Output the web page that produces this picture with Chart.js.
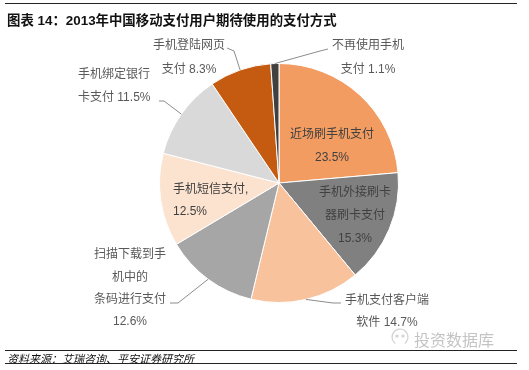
<!DOCTYPE html>
<html><head><meta charset="utf-8">
<script src="https://cdn.jsdelivr.net/npm/chart.js@4/dist/chart.umd.min.js"></script>
<style>
html,body{margin:0;padding:0;background:#fff;width:529px;height:370px;overflow:hidden;}
#wrap{position:relative;width:529px;height:370px;}
canvas{position:absolute;left:0;top:0;}
.line{position:absolute;left:5px;width:512px;height:0;border-top:1.5px solid #222;}
#title{position:absolute;left:7px;top:9px;font:bold 13.4px "Liberation Sans","Noto Sans CJK SC",sans-serif;color:#111;white-space:nowrap;}
#foot{position:absolute;left:7px;top:350px;font:italic 11px "Liberation Sans","Noto Sans CJK SC",sans-serif;color:#111;white-space:nowrap;}
#wm{position:absolute;left:414px;top:327px;font:16px "Noto Sans CJK SC",sans-serif;color:#c4c4c4;white-space:nowrap;}
</style></head>
<body><div id="wrap">
<canvas id="c" width="529" height="370"></canvas>
<div class="line" style="top:3px"></div>
<div id="title">图表 14：2013年中国移动支付用户期待使用的支付方式</div>
<div class="line" style="top:350px"></div>
<div id="foot">资料来源：艾瑞咨询、平安证券研究所</div>
<div class="line" style="top:363px"></div>
<div id="wm">投资数据库</div>
</div>
<script>
// ---- data ----
const categories = ["近场刷手机支付","手机外接刷卡器刷卡支付","手机支付客户端软件","扫描下载到手机中的条码进行支付","手机短信支付","手机绑定银行卡支付","手机登陆网页支付","不再使用手机支付"];
const shares = [23.5, 15.3, 14.7, 12.6, 12.5, 11.5, 8.3, 1.1];
const labelLines = [
  ["近场刷手机支付","23.5%"],
  ["手机外接刷卡","器刷卡支付","15.3%"],
  ["手机支付客户端","软件 14.7%"],
  ["扫描下载到手","机中的","条码进行支付","12.6%"],
  ["手机短信支付,","12.5%"],
  ["手机绑定银行","卡支付 11.5%"],
  ["手机登陆网页","支付 8.3%"],
  ["不再使用手机","支付 1.1%"]
];
// ---- styling / layout ----
const colors = ["#F39C62","#808080","#F8C39C","#A6A6A6","#FCE3D0","#D9D9D9","#C55A11","#404040"];
const labelLayout = [
  {x:332,y:135,gap:23,align:"center",color:"#404040"},
  {x:355,y:193,gap:23,align:"center",color:"#404040"},
  {x:387,y:301,gap:22,align:"center",color:"#595959",leader:[[341,303],[333,303]]},
  {x:130,y:255,gap:22.2,align:"center",color:"#595959",leader:[[170,303],[178,303]]},
  {x:173,y:190,gap:22,align:"left",color:"#404040"},
  {x:78,y:75,gap:23,align:"left",color:"#595959",leader:[[159,101],[164,101]]},
  {x:189,y:46,gap:24,align:"center",color:"#595959",leader:[[227,48],[234,51]]},
  {x:368,y:46,gap:24,align:"center",color:"#595959",leader:[[328,49],[320,51]]}
];

const labelPlugin = {
  id:'pieLabels',
  afterDatasetsDraw(chart){
    const ctx = chart.ctx;
    const meta = chart.getDatasetMeta(0);
    ctx.save();
    meta.data.forEach((arc,i)=>{
      const L = labelLayout[i];
      const p = arc.getProps(['x','y','startAngle','endAngle','outerRadius'],true);
      const mid = (p.startAngle+p.endAngle)/2;
      if(L.leader){
        const ax = p.x + Math.cos(mid)*p.outerRadius;
        const ay = p.y + Math.sin(mid)*p.outerRadius;
        ctx.strokeStyle = "#8c8c8c";
        ctx.lineWidth = 1;
        ctx.beginPath();
        ctx.moveTo(L.leader[0][0],L.leader[0][1]);
        for(let k=1;k<L.leader.length;k++) ctx.lineTo(L.leader[k][0],L.leader[k][1]);
        ctx.lineTo(ax,ay);
        ctx.stroke();
      }
      ctx.fillStyle = L.color;
      ctx.font = '12px "Liberation Sans","Noto Sans CJK SC",sans-serif';
      ctx.textAlign = L.align;
      ctx.textBaseline = 'middle';
      labelLines[i].forEach((t,j)=>{
        ctx.fillText(t, L.x, L.y + j*L.gap);
      });
    });
    // watermark icon
    ctx.strokeStyle="#cfcfcf";ctx.lineWidth=1.2;
    ctx.beginPath();ctx.arc(400,337,8,Math.PI*0.7,Math.PI*2.3);ctx.stroke();
    ctx.beginPath();ctx.arc(397,336,1,0,Math.PI*2);ctx.stroke();
    ctx.beginPath();ctx.arc(403,336,1,0,Math.PI*2);ctx.stroke();
    ctx.restore();
  }
};

new Chart(document.getElementById('c'),{
  type:'pie',
  data:{labels:categories,datasets:[{data:shares,backgroundColor:colors,borderColor:"#ffffff",borderWidth:1}]},
  options:{
    responsive:false,animation:false,devicePixelRatio:1,
    rotation:0,
    layout:{padding:{left:159,top:63,right:130,bottom:67}},
    plugins:{legend:{display:false},tooltip:{enabled:false},title:{display:false}}
  },
  plugins:[labelPlugin]
});
</script>
</body></html>
